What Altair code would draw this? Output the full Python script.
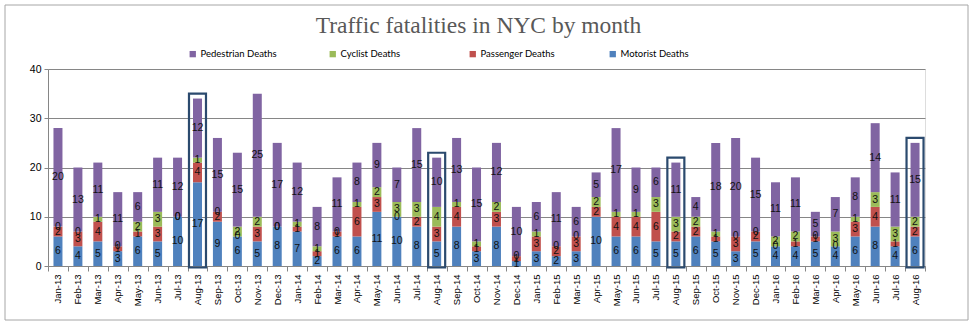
import altair as alt
import pandas as pd

months = ["Jan-13","Feb-13","Mar-13","Apr-13","May-13","Jun-13","Jul-13","Aug-13","Sep-13","Oct-13","Nov-13","Dec-13",
          "Jan-14","Feb-14","Mar-14","Apr-14","May-14","Jun-14","Jul-14","Aug-14","Sep-14","Oct-14","Nov-14","Dec-14",
          "Jan-15","Feb-15","Mar-15","Apr-15","May-15","Jun-15","Jul-15","Aug-15","Sep-15","Oct-15","Nov-15","Dec-15",
          "Jan-16","Feb-16","Mar-16","Apr-16","May-16","Jun-16","Jul-16","Aug-16"]
motorist   = [6,4,5,3,6,5,10,17,9,6,5,8, 7,2,6,6,11,10,8,5,8,3,8,1, 3,2,3,10,6,6,5,5,6,5,3,5, 4,4,5,4,6,8,4,6]
passenger  = [2,3,4,1,1,3,0,4,2,0,3,0, 1,1,1,6,3,0,2,3,4,1,3,1, 3,2,3,2,4,4,6,2,2,1,3,2, 0,1,1,0,3,4,1,2]
cyclist    = [0,0,1,0,2,3,0,1,0,2,2,0, 1,1,0,1,2,3,3,4,1,1,2,0, 1,0,0,2,1,1,3,3,2,1,0,0, 2,2,0,3,1,3,3,2]
pedestrian = [20,13,11,11,6,11,12,12,15,15,25,17, 12,8,11,8,9,7,15,10,13,15,12,10, 6,11,6,5,17,9,6,11,4,18,20,15, 11,11,5,7,8,14,11,15]

series_names = ["Pedestrian Deaths", "Cyclist Deaths", "Passenger Deaths", "Motorist Deaths"]
series_colors = ["#8064A2", "#9BBB59", "#C0504D", "#4F81BD"]
stack_order = ["Motorist Deaths", "Passenger Deaths", "Cyclist Deaths", "Pedestrian Deaths"]
highlight_months = ["Aug-13", "Aug-14", "Aug-15", "Aug-16"]
y_ticks = [0, 5, 10, 15, 20, 25, 30, 35, 40]

series_values = {
    "Motorist Deaths": motorist,
    "Passenger Deaths": passenger,
    "Cyclist Deaths": cyclist,
    "Pedestrian Deaths": pedestrian,
}
rows = []
for i, m in enumerate(months):
    for k, name in enumerate(stack_order):
        rows.append({"month": m, "series": name, "ord": k, "value": series_values[name][i]})
df = pd.DataFrame(rows)

x_scale = alt.Scale(paddingInner=0, paddingOuter=0)
y_scale = alt.Scale(domain=[0, 40], nice=False)

x_axis = alt.Axis(title=None, labelAngle=-90, labelFontSize=9.5, labelFont="Liberation Sans",
                  labelColor="#000000", labelPadding=3, tickBand="extent", ticks=True, tickSize=5,
                  tickColor="#868686", domainColor="#868686", grid=False, labelBaseline="middle")
y_axis = alt.Axis(title=None, values=y_ticks, labelFontSize=10.5, labelFont="Liberation Sans",
                  labelColor="#000000", grid=True, gridColor="#868686", gridWidth=1,
                  domainColor="#868686", tickColor="#868686", tickSize=4, labelPadding=3)

base = alt.Chart(df).transform_stack(
    stack="value", as_=["y0", "y1"], groupby=["month"],
    sort=[alt.SortField("ord", order="ascending")]
).transform_calculate(mid="(datum.y0 + datum.y1) / 2")

bars = base.mark_bar(size=9).encode(
    x=alt.X("month:N", sort=months, scale=x_scale, axis=x_axis),
    y=alt.Y("y0:Q", scale=y_scale, axis=y_axis),
    y2="y1:Q",
    color=alt.Color("series:N",
                    scale=alt.Scale(domain=series_names, range=series_colors),
                    legend=alt.Legend(title=None, orient="none", legendX=140, legendY=-20,
                                      direction="horizontal", columns=4, gridAlign="all",
                                      columnPadding=51, symbolType="square", symbolSize=40,
                                      symbolStrokeWidth=0, labelFont="Lato", labelFontSize=9.5,
                                      labelColor="#000000", labelOffset=3, padding=0)),
)

labels = base.mark_text(fontSize=10.5, font="Liberation Sans", color="#111111").encode(
    x=alt.X("month:N", sort=months),
    y=alt.Y("mid:Q"),
    text="value:Q",
)

boxes = alt.Chart(df).transform_filter(
    alt.FieldOneOfPredicate(field="month", oneOf=highlight_months)
).transform_aggregate(
    total="sum(value)", groupby=["month"]
).transform_calculate(top="datum.total + 1", bottom="-0.3").mark_bar(
    size=17, fillOpacity=0, stroke="#2B4A6E", strokeWidth=2.2
).encode(
    x=alt.X("month:N", sort=months),
    y=alt.Y("bottom:Q"),
    y2="top:Q",
)

frame = alt.Chart(pd.DataFrame({"k": [0]})).mark_rect(
    fillOpacity=0, stroke="#A6A6A6", strokeWidth=1
).encode(x=alt.value(-43), x2=alt.value(920), y=alt.value(-64), y2=alt.value(251))

chart = alt.layer(bars, labels, boxes, frame).properties(
    width=877, height=197,
    title=alt.TitleParams("Traffic fatalities in NYC by month", font="Liberation Serif",
                          fontSize=23.5, fontWeight="normal", color="#595959",
                          anchor="middle", offset=-33, dx=-8),
    autosize=alt.AutoSizeParams(type="none"),
    padding={"left": 48, "top": 69, "right": 52, "bottom": 64},
).configure_view(stroke=None).configure(background="#FFFFFF")

chart.save("out.html", embed_options={"renderer": "svg", "actions": False})
